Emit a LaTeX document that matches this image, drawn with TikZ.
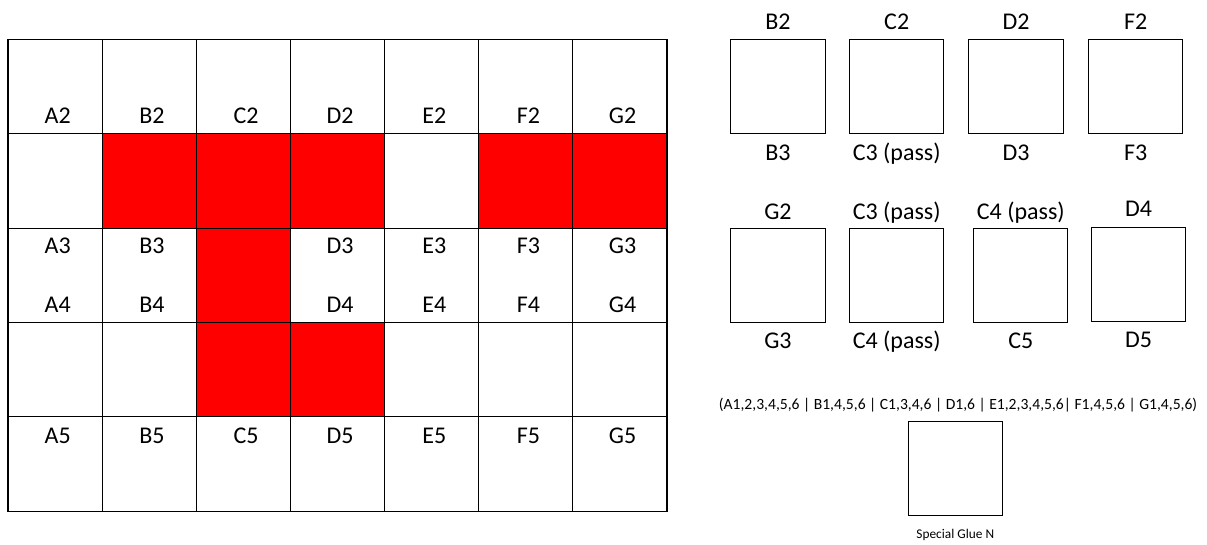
\documentclass[tikz,border=0pt]{standalone}
\usepackage{fontspec}
\setmainfont{Carlito}
\usetikzlibrary{positioning}
\definecolor{gdInk}{HTML}{000000}
\definecolor{gdRed}{HTML}{FF0000}

\begin{document}
\begin{tikzpicture}[
  x=0.75pt,y=-0.75pt,
  font=\fontsize{18}{21}\selectfont,
  every node/.style={text=gdInk,align=center,outer sep=0pt},
  cell/.style={draw=gdInk,line width=0.8pt,minimum width=70.6pt,minimum height=70.8pt,inner sep=0pt},
  hot/.style={draw=gdInk,line width=0.8pt,fill=gdRed},
  piece/.style={draw=gdInk,line width=0.8pt,minimum size=70.7pt,inner sep=0pt},
  tag/.style={anchor=base,inner sep=0pt},
  note/.style={anchor=base,inner sep=0pt,font=\fontsize{11.7}{13}\selectfont}
]
\path[use as bounding box] (0,0) rectangle (1207,544);
% board
\foreach \r in {1,...,5}{
  \foreach \c [count=\i] in {A,B,C,D,E,F,G}{
    \node[cell] (\c-\r) at ({94.14*\i-39.07},{94.4*\r-7.9}) {};
  }
}
\foreach \n in {B-2,C-2,D-2,F-2,G-2,C-3,C-4,D-4}
  \draw[hot] (\n.south west) rectangle (\n.north east);
\foreach \c in {A,B,C,D,E,F,G}{
  \node[tag] (lab-\c2) at ([xshift=2pt,yshift=7.8pt]\c-1.south) {\c2};
  \node[tag] (lab-\c5) at ([xshift=2pt,yshift=-19.7pt]\c-5.north) {\c5};
}
\foreach \c in {A,B,D,E,F,G}{
  \node[tag] (lab-\c3) at ([xshift=2pt,yshift=-19.3pt]\c-3.north) {\c3};
  \node[tag] (lab-\c4) at ([xshift=2pt,yshift=7.8pt]\c-3.south) {\c4};
}
% pieces, first row
\node[piece] (p1) at (777.9,86.5) {};
\node[piece] (p2) at (896.7,86.5) {};
\node[piece] (p3) at (1016,86.5) {};
\node[piece] (p4) at (1135.7,86.5) {};
\node[tag] (p1t) at ([yshift=7.3pt]p1.north) {B2};
\node[tag] (p2t) at ([yshift=7.3pt]p2.north) {C2};
\node[tag] (p3t) at ([yshift=7.3pt]p3.north) {D2};
\node[tag] (p4t) at ([yshift=7.3pt]p4.north) {F2};
\node[tag] (p1b) at ([yshift=-20pt]p1.south) {B3};
\node[tag] (p2b) at ([yshift=-20pt]p2.south) {C3 (pass)};
\node[tag] (p3b) at ([yshift=-20pt]p3.south) {D3};
\node[tag] (p4b) at ([yshift=-20pt]p4.south) {F3};
% pieces, second row
\node[piece] (q1) at (777.9,275.8) {};
\node[piece] (q2) at (896.7,275.8) {};
\node[piece] (q3) at (1020.8,275.8) {};
\node[piece] (q4) at (1138.5,274.7) {};
\node[tag] (q1t) at ([yshift=6.8pt]q1.north) {G2};
\node[tag] (q2t) at ([yshift=6.8pt]q2.north) {C3 (pass)};
\node[tag] (q3t) at ([yshift=6.8pt]q3.north) {C4 (pass)};
\node[tag] (q4t) at ([yshift=8.3pt]q4.north) {D4};
\node[tag] (q1b) at ([yshift=-19.5pt]q1.south) {G3};
\node[tag] (q2b) at ([yshift=-19.5pt]q2.south) {C4 (pass)};
\node[tag] (q3b) at ([yshift=-19.5pt]q3.south) {C5};
\node[tag] (q4b) at ([yshift=-19.5pt]q4.south) {D5};
% glue
\node[piece] (glue) at (955.3,468.2) {};
\node[note] (gluet) at ([xshift=2pt,yshift=8.8pt]glue.north)
  {(A1,2,3,4,5,6 | B1,4,5,6 | C1,3,4,6 | D1,6 | E1,2,3,4,5,6| F1,4,5,6 | G1,4,5,6)};
\node[note,font=\fontsize{10}{12}\selectfont] (glueb) at ([yshift=-17pt]glue.south) {Special Glue N};
\end{tikzpicture}
\end{document}
